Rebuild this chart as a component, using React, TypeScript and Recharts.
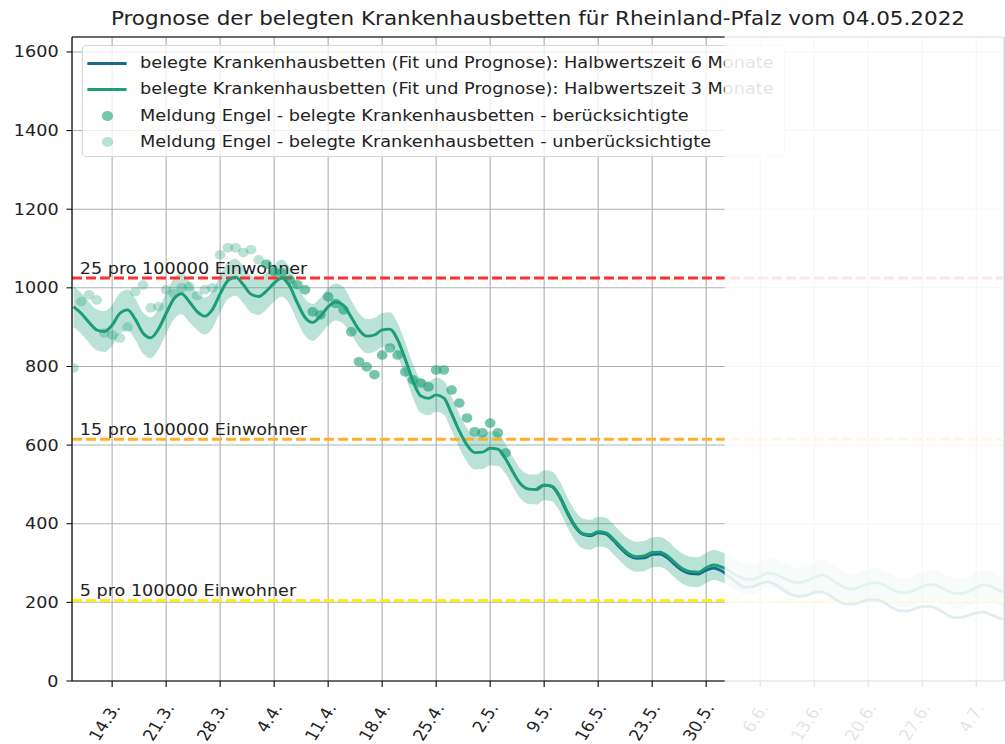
import React from "react";
import {
  ComposedChart,
  Area,
  Line,
  Scatter,
  XAxis,
  YAxis,
  CartesianGrid,
  ReferenceLine,
} from "recharts";

// the reference picture is stretched sideways, so the chart is drawn narrower and scaled
const SX = 1.12;
const W = 897;
const H = 744;
const FONT = "'DejaVu Sans', sans-serif";

const GREEN = "#1b9e77";
const BLUE = "#16698f";

// day 0 = 14.3.
const FIT_START = -5;
const fit3Months = [
  952, 935, 912, 893, 889, 905, 935, 944, 920, 885, 873, 895, 935, 972, 985,
  965, 940, 928, 945, 985, 1018, 1027, 1008, 984, 978,
  992, 1012, 1025, 1005, 962, 925, 912, 928, 952, 964,
  955, 925, 893, 877, 880, 893, 895, 868, 818, 763,
  725, 719, 728, 720, 680, 636, 600, 581, 582, 592,
  590, 565, 530, 500, 488, 487, 498, 495, 470, 430,
  395, 375, 372, 380, 377, 360, 340, 323, 316, 318,
  327, 328, 318, 300, 285, 278, 277, 288, 295, 290,
  280, 268, 260, 258, 266, 274, 272, 262, 253, 250,
  255, 264, 270, 262, 248, 237, 234, 240, 247, 250,
  244, 234, 226, 225, 231, 240, 246, 242, 232, 224,
  222, 228, 238, 245, 240, 230, 225,
];

const bandHalfWidth = [
  52, 52, 52, 52, 52, 52, 52, 52, 52, 52, 52, 52, 52, 52, 52, 52,
  47, 47, 47, 47, 47, 47, 47, 47, 47, 47, 47, 47, 47, 47, 47, 47, 47, 47, 47, 47,
  43, 43, 43, 43, 43, 43, 43, 43, 43, 43, 43, 43, 43, 43, 43, 43, 43, 43, 43, 43,
  38, 38, 38, 38, 38, 38, 38, 38, 38, 38, 38, 38, 38, 38, 38, 38, 38, 38, 38, 38, 38, 38,
  38, 38, 38, 38, 38, 38, 38, 38, 38, 38, 38, 38, 38, 38, 38, 38, 38, 38, 38, 38, 38, 38,
  38, 38, 38, 38, 38, 38, 38, 38, 38, 38, 38, 38, 38, 38, 38, 38, 38, 38, 38, 38, 38, 38,
];

const FIT6_START = 55;
const fit6Months = [
  487, 498, 495, 469, 428,
  393, 373, 369, 377, 374, 357, 336, 319, 312, 313,
  322, 323, 313, 295, 280, 273, 272, 282, 287, 280,
  265, 250, 238, 240, 248, 252, 245, 232, 220, 215,
  218, 225, 227, 218, 205, 196, 195, 201, 206, 207,
  200, 188, 179, 178, 184, 189, 190, 183, 171, 162,
  161, 167, 173, 175, 168, 160, 157,
];

const reportDays = [
  -5, -4, -3, -2, -1, 0, 1, 2, 3, 4, 5, 6, 7, 8, 9, 10, 11, 12, 13, 14, 15, 16, 17, 18, 19,
  20, 21, 22, 23, 24, 25, 26, 27, 28, 29, 30, 31, 32, 33, 34, 35, 36, 37, 38, 39,
  40, 41, 42, 43, 44, 45, 46, 47, 48, 49, 50, 51,
];
const reportBeds = [
  796, 965, 982, 969, 885, 880, 872, 900, 990, 1007, 949, 952, 995, 985, 1000, 1003, 980, 995, 1000, 1084, 1102, 1102, 1090, 1097, 1071,
  1060, 1041, 1038, 1020, 1008, 995, 939, 931, 977, 960, 944, 888, 812, 799, 779, 829, 847, 829, 786, 766,
  758, 748, 791, 791, 740, 707, 669, 634, 631, 656, 631, 580,
];
const FIRST_CONSIDERED_DAY = 20;

const tickDays = [0, 7, 14, 21, 28, 35, 42, 49, 56, 63, 70, 77, 84, 91, 98, 105, 112];
const tickLabels = [
  "14.3.", "21.3.", "28.3.", "4.4.", "11.4.", "18.4.", "25.4.", "2.5.", "9.5.",
  "16.5.", "23.5.", "30.5.", "6.6.", "13.6.", "20.6.", "27.6.", "4.7.",
];
const yTicks = [0, 200, 400, 600, 800, 1000, 1200, 1400, 1600];
const X_MIN = -5.2;
const X_MAX = 115.6;
const Y_MAX = 1638;

const thresholds = [
  { value: 1025, color: "#ff3030", label: "25 pro 100000 Einwohner" },
  { value: 615, color: "#ffb02a", label: "15 pro 100000 Einwohner" },
  { value: 205, color: "#ffec1a", label: "5 pro 100000 Einwohner" },
];

const legendItems = [
  { kind: "line", color: BLUE, text: "belegte Krankenhausbetten (Fit und Prognose): Halbwertszeit 6 Monate" },
  { kind: "line", color: GREEN, text: "belegte Krankenhausbetten (Fit und Prognose): Halbwertszeit 3 Monate" },
  { kind: "dot", opacity: 0.6, text: "Meldung Engel - belegte Krankenhausbetten - berücksichtigte" },
  { kind: "dot", opacity: 0.3, text: "Meldung Engel - belegte Krankenhausbetten - unberücksichtigte" },
];

const fitData = fit3Months.map((v, i) => ({
  t: FIT_START + i,
  fit3: v,
  band: [v - bandHalfWidth[i], v + bandHalfWidth[i]],
}));
const fit6Data = fit6Months.map((v, i) => ({ t: FIT6_START + i, fit6: v }));
const reports = reportDays.map((t, i) => ({ t, beds: reportBeds[i] }));
const considered = reports.filter((p) => p.t >= FIRST_CONSIDERED_DAY);
const ignored = reports.filter((p) => p.t < FIRST_CONSIDERED_DAY);

const dotShape = (opacity: number) => (props: any) =>
  <circle cx={props.cx} cy={props.cy} r={4.8} fill={GREEN} fillOpacity={opacity} />;

function XTick(props: any) {
  const { x, y, payload } = props;
  const label = tickLabels[tickDays.indexOf(payload.value)];
  return (
    <g transform={`translate(${x + 8},${y + 18.5}) rotate(-60)`}>
      <text textAnchor="end" fontSize={15.7} fill="#222" fontFamily={FONT}>
        {label}
      </text>
    </g>
  );
}

const thresholdLabel = (text: string) => (props: any) => {
  const vb = props.viewBox;
  return (
    <text x={vb.x + 7} y={vb.y - 4} fontSize={15.7} fill="#222" fontFamily={FONT}>
      {text}
    </text>
  );
};

export default function App() {
  return (
    <div style={{ position: "absolute", left: 0, top: 0, width: 1005, height: 744, overflow: "hidden", background: "#fff" }}>
      <div style={{ position: "relative", width: W, height: H, transform: `scaleX(${SX})`, transformOrigin: "0 0", fontFamily: FONT }}>
        <div
          style={{
            position: "absolute", left: 64.3, top: 9, width: 832.1, textAlign: "center",
            fontSize: 19.2, lineHeight: "19px", color: "#222", whiteSpace: "nowrap",
          }}
        >
          Prognose der belegten Krankenhausbetten für Rheinland-Pfalz vom 04.05.2022
        </div>

        <ComposedChart width={W} height={H} margin={{ top: 37, right: 0.6, bottom: 0, left: 0 }}>
          <CartesianGrid stroke="#b0b0b0" strokeWidth={1} />
          <XAxis
            type="number"
            dataKey="t"
            domain={[X_MIN, X_MAX]}
            allowDataOverflow
            ticks={tickDays}
            interval={0}
            height={63}
            tick={<XTick />}
            tickSize={6}
            stroke="#000"
            tickLine={{ stroke: "#000" }}
          />
          <YAxis
            type="number"
            domain={[0, Y_MAX]}
            ticks={yTicks}
            interval={0}
            width={64.3}
            tickSize={5}
            tickMargin={7}
            stroke="#000"
            tick={{ fill: "#222", fontSize: 15.7, fontFamily: FONT }}
          />
          <ReferenceLine y={Y_MAX} stroke="#000" strokeWidth={1} />
          <ReferenceLine x={X_MAX} stroke="#000" strokeWidth={1} />
          {thresholds.map((th) => (
            <ReferenceLine
              key={th.label}
              y={th.value}
              stroke={th.color}
              strokeWidth={3}
              strokeDasharray="8.9 3.6"
              label={thresholdLabel(th.label)}
            />
          ))}
          <Area
            data={fitData}
            dataKey="band"
            type="monotone"
            stroke="none"
            fill={GREEN}
            fillOpacity={0.3}
            isAnimationActive={false}
          />
          <Line data={fit6Data} dataKey="fit6" type="monotone" stroke={BLUE} strokeWidth={2.8} dot={false} isAnimationActive={false} />
          <Line data={fitData} dataKey="fit3" type="monotone" stroke={GREEN} strokeWidth={2.8} dot={false} isAnimationActive={false} />
          <Scatter data={considered} dataKey="beds" shape={dotShape(0.6)} isAnimationActive={false} />
          <Scatter data={ignored} dataKey="beds" shape={dotShape(0.3)} isAnimationActive={false} />
        </ComposedChart>

        <div
          style={{
            position: "absolute", left: 73.2, top: 45, width: 627.7, height: 112, boxSizing: "border-box",
            border: "1px solid #d6d6d6", borderRadius: 4, background: "rgba(255,255,255,0.8)",
          }}
        >
          {legendItems.map((item, i) => {
            const cy = [17, 43, 70, 96][i];
            return (
              <div key={item.text}>
                {item.kind === "line" ? (
                  <div style={{ position: "absolute", left: 4.2, top: cy - 1.5, width: 34.2, height: 3, background: item.color }} />
                ) : (
                  <div
                    style={{
                      position: "absolute", left: 22.1 - 4.8, top: cy - 4.8, width: 9.6, height: 9.6,
                      borderRadius: "50%", background: GREEN, opacity: item.opacity,
                    }}
                  />
                )}
                <div
                  style={{
                    position: "absolute", left: 50.9, top: cy - 10, height: 20, lineHeight: "20px",
                    fontSize: 15.8, color: "#222", whiteSpace: "nowrap",
                  }}
                >
                  {item.text}
                </div>
              </div>
            );
          })}
        </div>

        <div
          style={{
            position: "absolute", left: 647.3, top: 31, width: W - 647.3, height: H - 31,
            background: "rgba(255,255,255,0.88)",
          }}
        />
      </div>
    </div>
  );
}
